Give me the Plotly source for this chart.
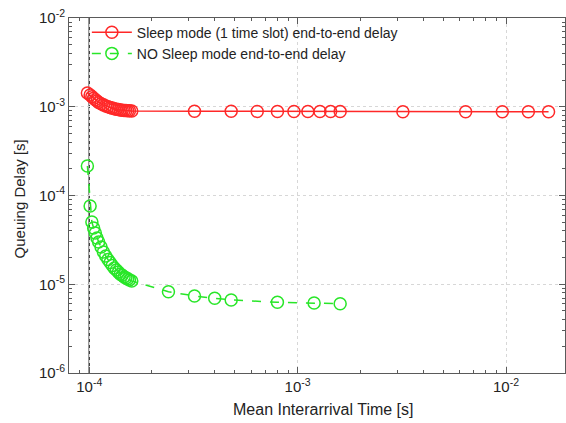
import plotly.graph_objects as go

# Mean interarrival time [s]
cluster_x = [0.98e-4, 1.01e-4, 1.03e-4, 1.05e-4, 1.07e-4, 1.09e-4, 1.11e-4, 1.14e-4,
             1.17e-4, 1.20e-4, 1.23e-4, 1.26e-4, 1.29e-4, 1.32e-4, 1.35e-4, 1.38e-4,
             1.41e-4, 1.44e-4, 1.47e-4, 1.50e-4, 1.53e-4, 1.56e-4, 1.60e-4]

sleep_x = cluster_x + [3.2e-4, 4.8e-4, 6.4e-4, 8.0e-4, 9.6e-4, 1.12e-3, 1.28e-3, 1.44e-3,
                       1.6e-3, 3.2e-3, 6.4e-3, 9.6e-3, 1.28e-2, 1.6e-2]
sleep_y = [1.43e-3, 1.36e-3, 1.30e-3, 1.25e-3, 1.20e-3, 1.16e-3, 1.12e-3, 1.08e-3,
           1.05e-3, 1.02e-3, 1.00e-3, 0.98e-3, 0.965e-3, 0.95e-3, 0.94e-3, 0.93e-3,
           0.92e-3, 0.915e-3, 0.91e-3, 0.905e-3, 0.90e-3, 0.90e-3, 0.895e-3,
           0.89e-3, 0.888e-3, 0.886e-3, 0.885e-3, 0.884e-3, 0.883e-3, 0.883e-3, 0.882e-3,
           0.882e-3, 0.88e-3, 0.88e-3, 0.88e-3, 0.88e-3, 0.88e-3]

nosleep_x = cluster_x + [2.4e-4, 3.2e-4, 4.0e-4, 4.8e-4, 8.0e-4, 1.2e-3, 1.6e-3]
nosleep_y = [2.15e-4, 7.62e-5, 5.03e-5, 4.30e-5, 3.78e-5, 3.32e-5, 2.99e-5, 2.63e-5,
             2.31e-5, 2.08e-5, 1.90e-5, 1.76e-5, 1.63e-5, 1.52e-5, 1.45e-5, 1.37e-5,
             1.30e-5, 1.26e-5, 1.21e-5, 1.18e-5, 1.15e-5, 1.12e-5, 1.09e-5,
             8.24e-6, 7.38e-6, 6.95e-6, 6.65e-6, 6.26e-6, 6.15e-6, 6.04e-6]

limit_x = 1e-4  # vertical reference line

x_tickvals = [1e-4, 1e-3, 1e-2]
x_ticktext = ["10<sup>-4</sup>", "10<sup>-3</sup>", "10<sup>-2</sup>"]
y_tickvals = [1e-6, 1e-5, 1e-4, 1e-3, 1e-2]
y_ticktext = ["10<sup>-6</sup>", "10<sup>-5</sup>", "10<sup>-4</sup>", "10<sup>-3</sup>", "10<sup>-2</sup>"]

RED = "rgb(255,40,40)"
GREEN = "rgb(40,230,40)"
FONT = "Liberation Sans, Arial, sans-serif"
TXT = "rgb(35,35,35)"

fig = go.Figure()
fig.add_trace(go.Scatter(
    x=sleep_x, y=sleep_y, mode="lines+markers",
    name="Sleep mode (1 time slot) end-to-end delay",
    line=dict(color=RED, width=1.5),
    marker=dict(symbol="circle-open", size=12, color=RED, line=dict(width=1.5)),
))
fig.add_trace(go.Scatter(
    x=nosleep_x, y=nosleep_y, mode="lines+markers",
    name="NO Sleep mode end-to-end delay",
    line=dict(color=GREEN, width=1.5, dash="dash"),
    marker=dict(symbol="circle-open", size=12, color=GREEN, line=dict(width=1.5)),
))

fig.add_shape(type="line", xref="x", yref="paper", x0=limit_x, x1=limit_x, y0=0, y1=1,
              line=dict(color="rgb(60,60,60)", width=1.5), layer="below")

axis_common = dict(
    type="log", showline=True, linecolor="rgb(90,90,90)", linewidth=1, mirror="ticks",
    ticks="inside", ticklen=6, tickcolor="rgb(90,90,90)",
    showgrid=True, gridcolor="rgb(215,215,215)", griddash="dot", gridwidth=1,
    zeroline=False, automargin=False,
    tickfont=dict(family=FONT, size=15, color=TXT),
    minor=dict(ticks="inside", ticklen=3, tickcolor="rgb(90,90,90)", dtick="D1", showgrid=False),
)

fig.update_xaxes(**axis_common, range=[-4.097, -1.717],
                 tickvals=x_tickvals, ticktext=x_ticktext)
fig.update_yaxes(**axis_common, range=[-6, -2],
                 tickvals=y_tickvals, ticktext=y_ticktext)

fig.add_annotation(text="Mean Interarrival Time [s]", xref="paper", yref="paper",
                   x=0.514, y=-0.104, xanchor="center", yanchor="middle", showarrow=False,
                   font=dict(family=FONT, size=16, color=TXT))
fig.add_annotation(text="Queuing Delay [s]", xref="paper", yref="paper", textangle=-90,
                   x=-0.1, y=0.49, xanchor="center", yanchor="middle", showarrow=False,
                   font=dict(family=FONT, size=15, color=TXT))

fig.update_layout(
    width=566, height=423,
    margin=dict(l=69, r=1, t=18, b=50),
    paper_bgcolor="white", plot_bgcolor="white",
    showlegend=True,
    legend=dict(x=0.036, y=1.004, xanchor="left", yanchor="top", bgcolor="rgba(0,0,0,0)",
                font=dict(family=FONT, size=14, color=TXT),
                tracegroupgap=0, itemwidth=40),
)

fig.write_html("out.html", config={"displayModeBar": False},
               post_script="document.body.style.margin='0';document.body.style.overflow='hidden';")
